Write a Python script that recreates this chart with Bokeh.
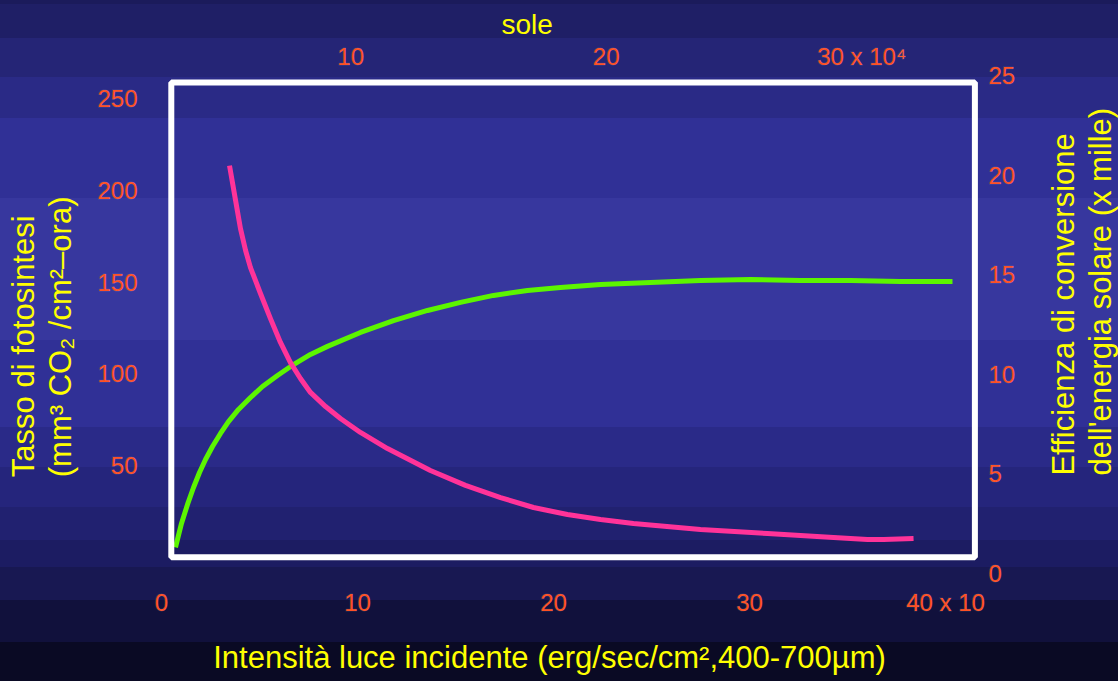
from bokeh.plotting import figure
from bokeh.layouts import row, column
from bokeh.models import Range1d, LinearAxis, FixedTicker, BoxAnnotation, Title, Label
from bokeh.embed import file_html
from bokeh.resources import INLINE
import math

# ---------------- data ----------------
# light intensity, bottom axis units (x 10 erg/sec/cm2)
rate_x = [0.714, 1.020, 1.327, 1.633, 1.939, 2.245, 2.602, 3.010, 3.418, 3.929, 4.541,
          5.153, 5.918, 6.735, 7.602, 8.469, 10.153, 11.837, 13.571, 15.255, 16.939,
          18.673, 20.357, 22.398, 24.949, 27.500, 30.051, 32.602, 35.153, 37.704, 40.357]
# photosynthesis rate (mm3 CO2 / cm2-hour), left axis
rate_y = [5.3, 18.4, 28.8, 38.0, 46.2, 53.3, 60.4, 67.5, 74.0, 80.6, 87.1,
          93.1, 99.1, 105.1, 110.6, 115.0, 122.6, 129.1, 134.6, 139.0, 142.8,
          145.5, 147.1, 148.8, 149.9, 151.0, 151.5, 151.0, 151.0, 150.4, 150.4]

eff_x = [3.47, 3.78, 4.03, 4.29, 4.54, 5.05, 5.56, 6.07, 6.58, 7.09, 7.60, 8.37, 9.13,
         10.15, 11.53, 13.72, 15.51, 17.30, 18.98, 20.71, 22.40, 24.08, 27.50, 30.92,
         34.29, 36.02, 36.84, 38.37]
# conversion efficiency of solar energy (x 1000), right axis
eff_y = [20.47, 18.72, 17.31, 16.21, 15.35, 14.05, 12.79, 11.59, 10.58, 9.78, 9.08, 8.37,
         7.77, 7.07, 6.26, 5.16, 4.41, 3.80, 3.30, 2.95, 2.70, 2.50, 2.19, 1.99,
         1.79, 1.69, 1.69, 1.74]

left_ticks = [50, 100, 150, 200, 250]
right_ticks = [0, 5, 10, 15, 20, 25]
bottom_ticks = [0, 10, 20, 30, 40]
bottom_overrides = {40: "40 x 10"}
top_ticks = [10, 20, 30]
top_overrides = {30: "30 x 10\u2074"}

title_top = "sole"
title_bottom = "Intensit\u00e0 luce incidente (erg/sec/cm\u00b2,400-700\u00b5m)"
title_left = ["Tasso di fotosintesi", "(mm\u00b3 CO\u2082 /cm\u00b2\u2013ora)"]
title_right = ["Efficienza di conversione", "dell'energia solare (x mille)"]

# axis box (the white frame) in data units
box_x = (0.5, 41.5)
box_y = (0.0, 259.0)

# ---------------- styling / layout ----------------
FONT = "Liberation Sans"
TICK_COLOR = "#ff4616"
TITLE_COLOR = "#ffff00"
TICK_SIZE = "24px"
TITLE_SIZE = "31px"

W, H = 1118, 681
LEFT_W, SIDE_W = 88, 78     # strips that carry the rotated titles
TOP_H = 630                 # height of the row with the plot; below it the x title strip
FRAME_L, FRAME_R, FRAME_T, FRAME_B = 140, 985, 72, 585

p = figure(width=W - SIDE_W - LEFT_W, height=TOP_H, output_backend="svg",
           toolbar_location=None, title=None,
           x_range=Range1d(-1.0714, 42.041), y_range=Range1d(-15.44, 264.4),
           min_border_left=FRAME_L - LEFT_W, min_border_right=W - SIDE_W - FRAME_R,
           min_border_top=FRAME_T, min_border_bottom=TOP_H - FRAME_B)
bottom_axis = p.below[0]
left_axis = p.left[0]
p.extra_x_ranges = {"sole": Range1d(1.773, 34.845)}
p.extra_y_ranges = {"eff": Range1d(-0.618, 25.15)}

p.background_fill_color = None
p.border_fill_color = None
p.outline_line_color = None
p.grid.visible = False

top_axis = LinearAxis(x_range_name="sole")
right_axis = LinearAxis(y_range_name="eff")
p.add_layout(top_axis, "above")
p.add_layout(right_axis, "right")


def style_axis(ax, ticks, overrides=None):
    ax.ticker = FixedTicker(ticks=ticks)
    ax.axis_line_color = None
    ax.major_tick_line_color = None
    ax.minor_tick_line_color = None
    ax.major_tick_in = 0
    ax.major_tick_out = 0
    ax.minor_tick_in = 0
    ax.minor_tick_out = 0
    ax.major_label_standoff = 3
    ax.major_label_text_color = TICK_COLOR
    ax.major_label_text_font = FONT
    ax.major_label_text_font_size = TICK_SIZE
    ax.major_label_text_outline_color = "rgba(255,255,255,0.14)"
    if overrides:
        ax.major_label_overrides = overrides


style_axis(bottom_axis, bottom_ticks, bottom_overrides)
style_axis(left_axis, left_ticks)
style_axis(top_axis, top_ticks, top_overrides)
style_axis(right_axis, right_ticks)

sole = Title(text=title_top, align="left", offset=361, standoff=0,
             text_color=TITLE_COLOR, text_font=FONT, text_font_size="28px",
             text_font_style="normal")
p.add_layout(sole, "above")

# frame
p.add_layout(BoxAnnotation(left=box_x[0], right=box_x[1], bottom=box_y[0], top=box_y[1],
                           fill_alpha=0, line_color="white", line_alpha=1.0, line_width=6))

p.line(rate_x, rate_y, line_color="#5cf500", line_width=5, line_join="round")
p.line(eff_x, eff_y, line_color="#ff3399", line_width=5, line_join="round",
       y_range_name="eff")


def strip(x0, x1, y0, y1):
    f = figure(width=x1 - x0, height=y1 - y0, output_backend="svg", toolbar_location=None,
               title=None, x_range=Range1d(x0, x1), y_range=Range1d(y1, y0),
               x_axis_location=None, y_axis_location=None, min_border=0)
    f.background_fill_color = None
    f.border_fill_color = None
    f.outline_line_color = None
    f.grid.visible = False
    return f


def title_label(fig, txt, x, y, angle=0.0, align="left"):
    fig.add_layout(Label(x=x, y=y, text=txt, angle=angle, text_align=align,
                         text_baseline="alphabetic", text_color=TITLE_COLOR,
                         text_font=FONT, text_font_size=TITLE_SIZE))


left_strip = strip(0, LEFT_W, 0, TOP_H)
for txt, bx in zip(title_left, [23, 60]):
    title_label(left_strip, txt, bx, 497, angle=math.pi / 2)

side = strip(W - SIDE_W, W, 0, TOP_H)
for txt, bx in zip(title_right, [1063, 1100]):
    title_label(side, txt, bx, 495, angle=math.pi / 2)

bottom_strip = strip(0, W, TOP_H, H)
title_label(bottom_strip, title_bottom, 549, 657, align="center")

bands = [(0, 4, "#1b1b5b"), (4, 38, "#1f1f66"), (38, 77, "#252576"), (77, 118, "#2a2a86"),
         (118, 198, "#303096"), (198, 340, "#37379e"), (340, 427, "#303096"),
         (427, 467, "#2a2a88"), (467, 507, "#25257c"), (507, 540, "#212170"),
         (540, 567, "#1c1c62"), (567, 600, "#181852"), (600, 642, "#11113c"),
         (642, 700, "#0a0a24")]
stops = ", ".join(f"{c} {a}px, {c} {b}px" for a, b, c in bands)
css = ("<style>html{background:#0a0a24 linear-gradient(to bottom, " + stops +
       ") no-repeat fixed;} body{background:transparent;}</style>")

layout = column(row(left_strip, p, side, spacing=0), bottom_strip, spacing=0)
html = file_html(layout, INLINE)
html = html.replace("</head>", css + "</head>", 1)
open("out.html", "w").write(html)
